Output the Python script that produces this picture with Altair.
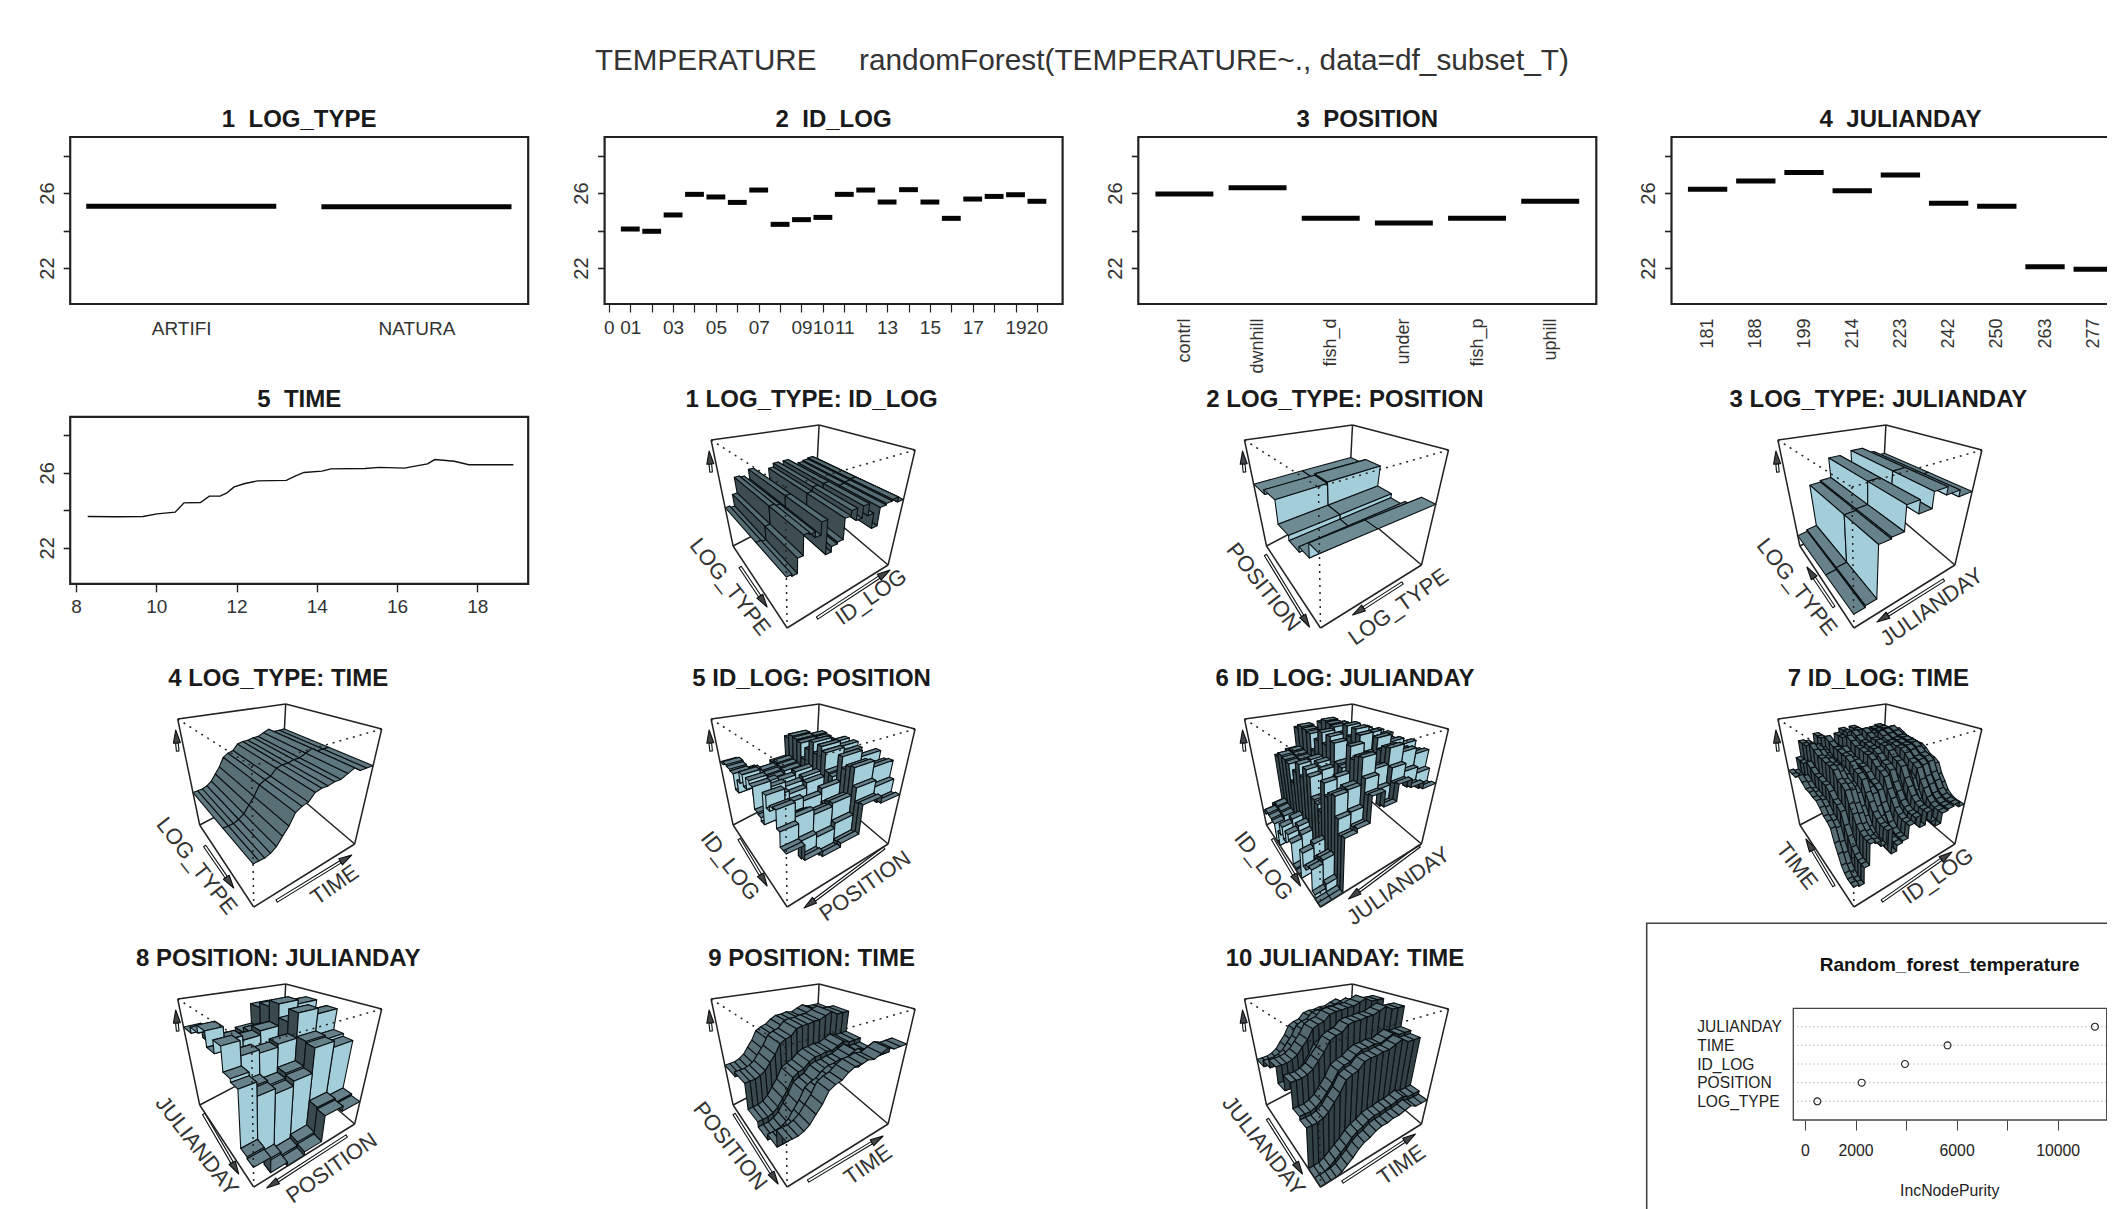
import altair as alt

FONT = "Liberation Sans"
M = 8  # page margin
W, H = 2099, 1201

# ---------- values ----------
LOG_LEVELS = ["ARTIFI", "NATURA"]
LOG_VALUES = [25.29, 25.27]
ID_TICKS = ["0", "01", "", "03", "", "05", "", "07", "", "09", "10", "11", "", "13", "", "15", "", "17", "", "19", "20"]
ID_VALUES = [24.08, 23.96, 24.83, 25.93, 25.79, 25.5, 26.16, 24.33, 24.58, 24.7, 25.93, 26.16, 25.52, 26.18, 25.52, 24.65, 25.68, 25.82, 25.91, 25.56]
POS_LEVELS = ["contrl", "dwnhill", "fish_d", "under", "fish_p", "uphill"]
POS_VALUES = [25.95, 26.28, 24.65, 24.4, 24.65, 25.56]
JUL_LEVELS = ["181", "188", "199", "214", "223", "242", "250", "263", "277"]
JUL_VALUES = [26.2, 26.64, 27.1, 26.12, 26.96, 25.45, 25.3, 22.07, 21.93]
TIME_X = [8.29, 9.0, 9.67, 10.02, 10.47, 10.69, 11.1, 11.32, 11.59, 11.76, 11.94, 12.21, 12.52, 13.24, 13.46, 13.68, 14.13, 14.35, 15.2, 15.56, 16.18, 16.45, 16.76, 16.94, 17.43, 17.79, 18.9]
TIME_Y = [23.67, 23.66, 23.67, 23.81, 23.9, 24.4, 24.42, 24.76, 24.76, 24.93, 25.25, 25.43, 25.57, 25.6, 25.82, 26.02, 26.09, 26.21, 26.23, 26.29, 26.25, 26.36, 26.48, 26.71, 26.62, 26.43, 26.43]

IMP_NAMES = ["JULIANDAY", "TIME", "ID_LOG", "POSITION", "LOG_TYPE"]
IMP_VALUES = [11475, 5640, 3957, 2243, 488]

S_LOG_ID = [
    [23.8, 23.7, 24.5, 25.6, 25.5, 25.2, 25.9, 24.0, 24.3, 24.4, 25.6, 25.9, 25.2, 25.9, 25.2, 24.3, 25.4, 25.5, 25.6, 25.3],
    [23.8, 23.7, 24.5, 25.6, 25.5, 25.2, 25.9, 24.0, 24.3, 24.4, 25.6, 25.9, 25.2, 25.9, 25.2, 24.3, 25.4, 25.5, 25.6, 25.3],
]
S_POS_LOG = [[25.4, 25.4], [25.7, 25.8], [24.2, 24.2], [23.9, 23.9], [24.2, 24.2], [25.0, 25.0]]
S_LOG_JUL = [
    [21.9, 22.0, 24.9, 25.0, 26.5, 25.7, 26.7, 26.2, 25.8],
    [21.9, 22.0, 24.9, 25.0, 26.5, 25.7, 26.7, 26.2, 25.8],
]
S_LOG_TIME = [
    [23.4, 23.4, 23.4, 23.5, 23.7, 24.1, 24.5, 25.1, 25.3, 25.4, 25.8, 25.9, 25.9, 26.0, 26.0, 26.2, 26.4, 26.1, 26.1, 26.1],
    [23.4, 23.4, 23.4, 23.5, 23.7, 24.1, 24.5, 25.1, 25.3, 25.4, 25.8, 25.9, 25.9, 26.0, 26.0, 26.2, 26.4, 26.1, 26.1, 26.1],
]
S_ID_POS = [
    [25.5, 24.6, 24.3, 24.6, 26.2, 25.8], [25.7, 24.8, 24.6, 24.8, 26.5, 26.1], [25.6, 24.7, 24.5, 24.7, 26.4, 26.0],
    [25.5, 24.6, 24.4, 24.6, 26.3, 25.9], [24.5, 23.6, 23.3, 23.6, 25.2, 24.9], [25.3, 24.5, 24.2, 24.5, 26.1, 25.7],
    [26.0, 25.1, 24.9, 25.1, 26.8, 26.4], [25.3, 24.5, 24.2, 24.5, 26.1, 25.7], [26.0, 25.2, 24.9, 25.1, 26.8, 26.4],
    [25.8, 24.8, 24.6, 24.9, 26.5, 26.1], [24.5, 23.7, 23.4, 23.6, 25.3, 24.9], [24.4, 23.6, 23.3, 23.5, 25.2, 24.8],
    [24.2, 23.3, 23.0, 23.3, 24.9, 24.5], [26.0, 25.1, 24.9, 25.2, 26.8, 26.4], [25.3, 24.5, 24.2, 24.4, 26.1, 25.7],
    [25.6, 24.7, 24.5, 24.7, 26.4, 26.0], [25.7, 24.9, 24.6, 24.8, 26.5, 26.1], [24.7, 23.7, 23.5, 23.8, 25.4, 25.0],
    [23.9, 23.0, 22.7, 22.9, 24.6, 24.2], [23.9, 23.1, 22.8, 23.0, 24.7, 24.3],
]
S_ID_JUL = [
    [22.2, 22.4, 25.6, 25.8, 27.3, 26.4, 27.4, 26.9, 26.5], [22.5, 22.7, 25.9, 26.0, 27.6, 26.7, 27.7, 27.2, 26.8],
    [22.4, 22.6, 25.8, 25.9, 27.5, 26.6, 27.6, 27.1, 26.7], [22.3, 22.5, 25.7, 25.8, 27.4, 26.5, 27.5, 27.0, 26.6],
    [21.2, 21.4, 24.6, 24.7, 26.3, 25.4, 26.4, 25.9, 25.5], [22.1, 22.3, 25.5, 25.7, 27.2, 26.3, 27.3, 26.8, 26.4],
    [22.8, 23.0, 26.2, 26.3, 27.9, 27.0, 28.0, 27.5, 27.1], [22.1, 22.3, 25.5, 25.6, 27.2, 26.3, 27.3, 26.8, 26.4],
    [22.8, 23.0, 26.2, 26.4, 27.9, 27.0, 28.0, 27.5, 27.1], [22.5, 22.7, 25.9, 26.1, 27.6, 26.7, 27.7, 27.2, 26.8],
    [21.3, 21.5, 24.7, 24.8, 26.4, 25.5, 26.5, 26.0, 25.6], [21.2, 21.4, 24.6, 24.8, 26.3, 25.4, 26.4, 25.9, 25.5],
    [21.2, 21.2, 24.3, 24.5, 26.0, 25.1, 26.1, 25.6, 25.2], [22.8, 23.0, 26.2, 26.3, 27.9, 27.0, 28.0, 27.5, 27.1],
    [22.1, 22.3, 25.5, 25.6, 27.2, 26.3, 27.3, 26.8, 26.4], [22.4, 22.6, 25.8, 26.0, 27.5, 26.6, 27.6, 27.1, 26.7],
    [22.5, 22.7, 25.9, 26.0, 27.6, 26.7, 27.7, 27.2, 26.8], [21.4, 21.6, 24.8, 24.9, 26.5, 25.6, 26.6, 26.1, 25.7],
    [21.2, 21.2, 24.0, 24.2, 25.7, 24.8, 25.8, 25.3, 24.9], [21.2, 21.2, 24.1, 24.3, 25.8, 24.9, 25.9, 25.4, 25.0],
]
S_TIME_ID = [
    [24.9, 24.8, 25.6, 26.7, 26.6, 26.3, 27.0, 25.6, 25.9, 26.0, 26.7, 27.0, 26.3, 27.0, 26.3, 25.9, 26.5, 26.6, 26.7, 26.4],
    [24.9, 24.8, 25.6, 26.7, 26.6, 26.3, 27.0, 25.6, 25.9, 26.0, 26.7, 27.0, 26.3, 27.0, 26.3, 25.9, 26.5, 26.6, 26.7, 26.4],
    [24.9, 24.8, 25.6, 26.7, 26.6, 26.3, 27.0, 25.6, 25.9, 26.0, 26.7, 27.0, 26.3, 27.0, 26.3, 25.9, 26.5, 26.6, 26.7, 26.4],
    [25.2, 25.1, 25.9, 27.0, 26.9, 26.6, 27.3, 25.9, 26.2, 26.3, 27.0, 27.3, 26.6, 27.3, 26.6, 26.2, 26.8, 26.9, 27.0, 26.7],
    [25.0, 24.9, 25.7, 26.8, 26.7, 26.4, 27.1, 25.7, 26.0, 26.1, 26.8, 27.1, 26.4, 27.1, 26.4, 26.0, 26.6, 26.7, 26.8, 26.5],
    [24.8, 24.7, 25.5, 26.6, 26.5, 26.2, 26.9, 25.5, 25.8, 25.9, 26.6, 26.9, 26.2, 26.9, 26.2, 25.8, 26.4, 26.5, 26.6, 26.3],
    [24.8, 24.7, 25.5, 26.6, 26.5, 26.2, 26.9, 25.5, 25.8, 25.9, 26.6, 26.9, 26.2, 26.9, 26.2, 25.8, 26.4, 26.5, 26.6, 26.3],
    [24.7, 24.6, 25.4, 26.5, 26.4, 26.1, 26.8, 25.4, 25.7, 25.8, 26.5, 26.8, 26.1, 26.8, 26.1, 25.7, 26.3, 26.4, 26.5, 26.2],
    [24.7, 24.6, 25.4, 26.5, 26.4, 26.1, 26.8, 25.4, 25.7, 25.8, 26.5, 26.8, 26.1, 26.8, 26.1, 25.7, 26.3, 26.4, 26.5, 26.2],
    [24.5, 24.4, 25.2, 26.4, 26.2, 25.9, 26.6, 25.2, 25.5, 25.6, 26.3, 26.6, 25.9, 26.6, 25.9, 25.5, 26.1, 26.2, 26.3, 26.0],
    [24.2, 24.1, 24.9, 26.0, 25.9, 25.6, 26.3, 24.9, 25.2, 25.3, 26.0, 26.3, 25.6, 26.3, 25.6, 25.2, 25.8, 25.9, 26.0, 25.7],
    [24.1, 24.0, 24.8, 25.9, 25.8, 25.5, 26.2, 24.8, 25.1, 25.2, 25.9, 26.2, 25.5, 26.2, 25.5, 25.1, 25.7, 25.8, 25.9, 25.6],
    [23.9, 23.8, 24.6, 25.7, 25.6, 25.3, 26.0, 24.6, 24.9, 25.0, 25.7, 26.0, 25.3, 26.0, 25.3, 24.9, 25.5, 25.6, 25.7, 25.4],
    [23.3, 23.2, 24.0, 25.1, 25.0, 24.7, 25.4, 24.0, 24.3, 24.4, 25.1, 25.4, 24.7, 25.4, 24.7, 24.3, 24.9, 25.0, 25.1, 24.8],
    [22.9, 22.8, 23.6, 24.7, 24.6, 24.3, 25.0, 23.6, 23.9, 24.0, 24.7, 25.0, 24.3, 25.0, 24.3, 23.9, 24.5, 24.6, 24.7, 24.4],
    [22.5, 22.4, 23.2, 24.3, 24.2, 23.9, 24.6, 23.2, 23.5, 23.6, 24.3, 24.6, 23.9, 24.6, 23.9, 23.5, 24.1, 24.2, 24.3, 24.0],
    [22.3, 22.2, 23.0, 24.1, 24.0, 23.7, 24.4, 23.0, 23.3, 23.4, 24.1, 24.4, 23.7, 24.4, 23.7, 23.3, 23.9, 24.0, 24.1, 23.8],
    [22.2, 22.1, 22.9, 24.0, 23.9, 23.6, 24.3, 22.9, 23.2, 23.3, 24.0, 24.3, 23.6, 24.3, 23.6, 23.2, 23.8, 23.9, 24.0, 23.7],
    [22.2, 22.1, 22.9, 24.0, 23.9, 23.6, 24.3, 22.9, 23.2, 23.3, 24.0, 24.3, 23.6, 24.3, 23.6, 23.2, 23.8, 23.9, 24.0, 23.7],
    [22.2, 22.1, 22.9, 24.0, 23.9, 23.6, 24.3, 22.9, 23.2, 23.3, 24.0, 24.3, 23.6, 24.3, 23.6, 23.2, 23.8, 23.9, 24.0, 23.7],
]
S_JUL_POS = [
    [26.5, 25.5, 25.3, 25.6, 27.2, 26.9], [26.9, 26.0, 25.7, 26.0, 27.6, 27.3], [27.4, 26.5, 26.2, 26.5, 28.1, 27.8],
    [26.4, 25.5, 25.2, 25.5, 27.1, 26.8], [27.2, 26.3, 26.1, 26.3, 28.0, 27.6], [25.7, 24.8, 24.5, 24.8, 26.4, 26.1],
    [25.5, 24.7, 24.4, 24.7, 26.3, 25.9], [22.3, 21.5, 21.3, 21.5, 23.0, 22.7], [22.2, 21.4, 21.2, 21.4, 22.9, 22.6],
]
S_POS_TIME = [
    [23.9, 23.9, 23.9, 24.0, 24.2, 24.6, 25.0, 25.6, 25.8, 25.9, 26.2, 26.4, 26.4, 26.5, 26.4, 26.6, 26.8, 26.6, 26.6, 26.6],
    [24.2, 24.2, 24.2, 24.3, 24.5, 24.9, 25.3, 25.9, 26.1, 26.2, 26.6, 26.7, 26.7, 26.8, 26.8, 27.0, 27.2, 26.9, 26.9, 26.9],
    [22.6, 22.6, 22.6, 22.7, 22.9, 23.3, 23.7, 24.3, 24.5, 24.6, 24.9, 25.1, 25.1, 25.2, 25.1, 25.3, 25.5, 25.3, 25.3, 25.3],
    [22.3, 22.3, 22.3, 22.4, 22.6, 23.0, 23.4, 24.0, 24.2, 24.3, 24.7, 24.8, 24.8, 24.9, 24.9, 25.1, 25.3, 25.0, 25.0, 25.0],
    [22.6, 22.6, 22.6, 22.7, 22.9, 23.3, 23.7, 24.3, 24.5, 24.6, 24.9, 25.1, 25.1, 25.2, 25.1, 25.3, 25.5, 25.3, 25.3, 25.3],
    [23.5, 23.5, 23.5, 23.6, 23.8, 24.2, 24.6, 25.2, 25.4, 25.5, 25.8, 26.0, 26.0, 26.1, 26.0, 26.2, 26.4, 26.2, 26.2, 26.2],
]
S_JUL_TIME = [
    [24.3, 24.3, 24.3, 24.4, 24.6, 25.0, 25.4, 26.0, 26.2, 26.3, 26.7, 26.8, 26.8, 26.9, 26.9, 27.1, 27.3, 27.0, 27.0, 27.0],
    [24.7, 24.7, 24.7, 24.8, 25.0, 25.4, 25.8, 26.4, 26.6, 26.7, 27.1, 27.2, 27.2, 27.3, 27.3, 27.5, 27.7, 27.4, 27.4, 27.4],
    [25.2, 25.2, 25.2, 25.3, 25.5, 25.9, 26.3, 26.9, 27.1, 27.2, 27.6, 27.7, 27.7, 27.8, 27.8, 28.0, 28.2, 27.9, 27.9, 27.9],
    [24.2, 24.2, 24.2, 24.3, 24.5, 24.9, 25.3, 25.9, 26.1, 26.2, 26.6, 26.7, 26.7, 26.8, 26.8, 27.0, 27.2, 26.9, 26.9, 26.9],
    [25.1, 25.1, 25.1, 25.2, 25.4, 25.8, 26.2, 26.8, 27.0, 27.1, 27.5, 27.6, 27.6, 27.7, 27.7, 27.9, 28.1, 27.8, 27.8, 27.8],
    [23.6, 23.6, 23.6, 23.7, 23.9, 24.3, 24.7, 25.3, 25.5, 25.6, 25.9, 26.1, 26.1, 26.2, 26.1, 26.3, 26.5, 26.3, 26.3, 26.3],
    [23.4, 23.4, 23.4, 23.5, 23.7, 24.1, 24.5, 25.1, 25.3, 25.4, 25.8, 25.9, 25.9, 26.0, 26.0, 26.2, 26.4, 26.1, 26.1, 26.1],
    [21.2, 21.2, 21.2, 21.3, 21.5, 21.7, 21.9, 22.2, 22.4, 22.5, 22.7, 22.8, 22.8, 22.9, 22.9, 23.0, 23.1, 22.9, 22.9, 22.9],
    [21.2, 21.2, 21.2, 21.2, 21.3, 21.5, 21.7, 22.0, 22.2, 22.3, 22.5, 22.6, 22.6, 22.7, 22.7, 22.8, 22.9, 22.7, 22.7, 22.7],
]

# ---------- layout and style ----------
COLS = [70.2, 604.6, 1138.3, 1671.5]
PW = 458
YTOP = [137.0, 416.8]
PH = 167
YDOM = [20.08, 28.99]
ONE = [{"k": 1}]
layers = []


def text(s, x, y, size, bold=False, angle=0, align="center", baseline="alphabetic", color="#1a1a1a"):
    kw = {"fontWeight": "bold"} if bold else {}
    return alt.Chart(alt.Data(values=ONE)).mark_text(
        text=s, font=FONT, fontSize=size, angle=angle, align=align, baseline=baseline, color=color, **kw
    ).encode(x=alt.value(x - M), y=alt.value(y - M))


def frame(x0, x1, y0, y1, width=2.2, color="#222222"):
    return alt.Chart(alt.Data(values=ONE)).mark_rect(fillOpacity=0, stroke=color, strokeWidth=width).encode(
        x=alt.value(x0 - M), x2=alt.value(x1 - M), y=alt.value(y0 - M), y2=alt.value(y1 - M)
    )


def yaxis(x0):
    return alt.Axis(orient="left", values=[22, 24, 26, 28], labelExpr="datum.value==22||datum.value==26 ? datum.label : ''",
                    labelAngle=270, labelAlign="center", labelBaseline="bottom", labelFontSize=20, labelFont=FONT,
                    labelColor="#333333", labelPadding=6, tickSize=7, tickWidth=1.6, tickColor="#222222",
                    domain=False, grid=False, title=None, offset=-(x0 - M), labelOverlap=False)


def yscale(r):
    return alt.Scale(domain=YDOM, range=[YTOP[r] + PH - M, YTOP[r] - M], nice=False, zero=False)


def xaxis(r, labels, values, ticks=False, angle=0, padding=15, size=19):
    expr = "[" + ",".join("'%s'" % s for s in labels) + "][datum.value]"
    kw = dict(orient="bottom", labelExpr=expr, values=values, labelFontSize=size, labelFont=FONT, labelColor="#333333",
              labelPadding=padding, grid=False, domain=False, title=None, labelOverlap=False,
              offset=YTOP[r] + PH - M - H, ticks=ticks)
    if ticks:
        kw.update(tickSize=8, tickWidth=1.2, tickColor="#222222")
    if angle:
        kw.update(labelAngle=angle, labelAlign="right", labelBaseline="middle")
    return alt.Axis(**kw)


def steps(col, values, levels, half, axis, dom):
    rows = [{"lo": l - half, "hi": l + half, "t": v} for l, v in zip(levels, values)]
    return alt.Chart(alt.Data(values=rows)).mark_rule(strokeWidth=5, color="#050505").encode(
        x=alt.X("lo:Q", scale=alt.Scale(domain=dom, range=[COLS[col] - M, COLS[col] + PW - M], nice=False, zero=False), axis=axis),
        x2="hi:Q",
        y=alt.Y("t:Q", scale=yscale(0), axis=yaxis(COLS[col])),
    )


layers.append(steps(0, LOG_VALUES, [0, 1], 0.404, xaxis(0, LOG_LEVELS, [0, 1]), [-0.472, 1.475]))
layers.append(steps(1, ID_VALUES, list(range(1, 21)), 0.44, xaxis(0, ID_TICKS, list(range(21)), ticks=True, padding=6), [-0.2, 21.2]))
layers.append(steps(2, POS_VALUES, list(range(6)), 0.396, xaxis(0, POS_LEVELS, list(range(6)), angle=270, padding=14, size=18), [-0.63, 5.63]))
layers.append(steps(3, JUL_VALUES, list(range(9)), 0.408, xaxis(0, JUL_LEVELS, list(range(9)), angle=270, padding=14, size=18), [-0.749, 8.753]))
for c in range(4):
    layers.append(frame(COLS[c], COLS[c] + PW, YTOP[0], YTOP[0] + PH))

layers.append(
    alt.Chart(alt.Data(values=[{"t": a, "v": b} for a, b in zip(TIME_X, TIME_Y)])).mark_line(color="#111111", strokeWidth=1.4).encode(
        x=alt.X("t:Q", scale=alt.Scale(domain=[7.853, 19.27], range=[COLS[0] - M, COLS[0] + PW - M], nice=False, zero=False),
                axis=alt.Axis(orient="bottom", values=[8, 10, 12, 14, 16, 18], labelFontSize=19, labelFont=FONT, labelColor="#333333", labelPadding=6,
                              tickSize=8, tickWidth=1.4, tickColor="#222222", domain=False, grid=False, title=None,
                              offset=YTOP[1] + PH - M - H, format="d", labelOverlap=False)),
        y=alt.Y("v:Q", scale=yscale(1), axis=yaxis(COLS[0])),
        order="t:Q",
    )
)
layers.append(frame(COLS[0], COLS[0] + PW, YTOP[1], YTOP[1] + PH))

# ---------- perspective panels ----------
T0, T1 = 21.2, 28.4
BACK_X = [285.7 + 533.4 * c for c in range(4)]
BACK_Y = [425.0, 704.0, 984.0]
CORNERS = {"Bt": (0, 0), "Lt": (-108, 15), "Rt": (96, 25), "Ft": (-34, 62),
           "Lb": (-86, 121), "Rb": (69, 140), "Fb": (-32, 203), "Bb": (-4, 78)}


def blend(p, q, t):
    return (p[0] + (q[0] - p[0]) * t, p[1] + (q[1] - p[1]) * t)


def project(u, v, z, ox, oy):
    c = CORNERS
    fl = blend(blend(c["Lb"], c["Fb"], u), blend(c["Bb"], c["Rb"], u), v)
    tp = blend(blend(c["Lt"], c["Ft"], u), blend(c["Bt"], c["Rt"], u), v)
    p = blend(fl, tp, z)
    return (p[0] + ox, p[1] + oy)


def nodes(n, factor):
    if factor:
        pos, idx = [], []
        for k in range(n):
            pos += [k / n, (k + 1) / n]
            idx += [k, k]
        return pos, idx
    return [k / (n - 1) for k in range(n)], list(range(n))


PANELS = [
    ("1 LOG_TYPE: ID_LOG", 1, 0, "LOG_TYPE", "ID_LOG", S_LOG_ID, True, True, (0.50, 0.9, 0.36), ((-79, 142), (-52, 182)), ((-2, 193), (71, 145)), (52, 172)),
    ("2 LOG_TYPE: POSITION", 2, 0, "POSITION", "LOG_TYPE", S_POS_LOG, True, True, (0.64, 0.95, 0.40), ((-87, 130), (-43, 202)), ((50, 158), (0, 190)), (46, 182)),
    ("3 LOG_TYPE: JULIANDAY", 3, 0, "LOG_TYPE", "JULIANDAY", S_LOG_JUL, True, True, (0.60, 0.42, 0.95), ((-52, 182), (-79, 142)), ((58, 155), (-9, 197)), (46, 182)),
    ("4 LOG_TYPE: TIME", 0, 1, "LOG_TYPE", "TIME", S_LOG_TIME, True, False, (0.56, 0.5, 0.5), ((-81, 142), (-52, 184)), ((-9, 197), (66, 151)), (49, 181)),
    ("5 ID_LOG: POSITION", 1, 1, "ID_LOG", "POSITION", S_ID_POS, True, True, (0.6, 0.95, 0.36), ((-80, 135), (-52, 182)), ((65, 144), (-15, 204)), (46, 182)),
    ("6 ID_LOG: JULIANDAY", 2, 1, "ID_LOG", "JULIANDAY", S_ID_JUL, True, True, (0.6, 0.95, 0.34), ((-80, 135), (-52, 182)), ((67, 142), (-4, 195)), (46, 182)),
    ("7 ID_LOG: TIME", 3, 1, "TIME", "ID_LOG", S_TIME_ID, False, True, (0.5, 0.5, 0.36), ((-52, 182), (-80, 135)), ((-4, 197), (66, 148)), (52, 172)),
    ("8 POSITION: JULIANDAY", 0, 2, "JULIANDAY", "POSITION", S_JUL_POS, True, True, (0.6, 0.95, 0.34), ((-82, 130), (-47, 190)), ((61, 152), (-19, 204)), (46, 184)),
    ("9 POSITION: TIME", 1, 2, "POSITION", "TIME", S_POS_TIME, True, False, (0.54, 0.34, 0.5), ((-85, 130), (-41, 200)), ((-11, 197), (64, 152)), (49, 181)),
    ("10 JULIANDAY: TIME", 2, 2, "JULIANDAY", "TIME", S_JUL_TIME, True, False, (0.55, 0.3, 0.45), ((-85, 135), (-50, 190)), ((-10, 198), (63, 150)), (49, 181)),
]

polys, solid_back, solid_front, dotted = [], [], [], []
gid = [0]


def add_poly(pts, colour):
    g = gid[0]
    gid[0] += 1
    for i, p in enumerate(pts):
        polys.append({"g": g, "i": i, "x": round(p[0] - M, 1), "y": round(p[1] - M, 1), "c": colour})


def add_arrow(tail, head, ox, oy):
    dx, dy = head[0] - tail[0], head[1] - tail[1]
    n = (dx * dx + dy * dy) ** 0.5
    dx, dy = dx / n, dy / n
    nx, ny = -dy, dx
    t = (tail[0] + ox, tail[1] + oy)
    h = (head[0] + ox, head[1] + oy)
    b = (h[0] - dx * 13, h[1] - dy * 13)
    add_poly([(t[0] + nx * 1.3, t[1] + ny * 1.3), (b[0] + nx * 1.3, b[1] + ny * 1.3),
              (b[0] - nx * 1.3, b[1] - ny * 1.3), (t[0] - nx * 1.3, t[1] - ny * 1.3)], "#ffffff")
    add_poly([h, (b[0] + nx * 3.5, b[1] + ny * 3.5), (b[0] - nx * 3.5, b[1] - ny * 3.5)], "#444444")


def edge(store, a, b, ox, oy):
    p, q = CORNERS[a], CORNERS[b]
    store.append({"x": p[0] + ox - M, "y": p[1] + oy - M, "x2": q[0] + ox - M, "y2": q[1] + oy - M})


for title, c, r, left, right, table, ufac, vfac, shade, la, ra, rlab in PANELS:
    ox, oy = BACK_X[c], BACK_Y[r]
    edge(solid_back, "Bt", "Bb", ox, oy)
    edge(solid_back, "Lb", "Bb", ox, oy)
    edge(solid_back, "Rb", "Bb", ox, oy)
    for a, b in [("Lt", "Bt"), ("Bt", "Rt"), ("Lt", "Lb"), ("Rt", "Rb"), ("Lb", "Fb"), ("Fb", "Rb")]:
        edge(solid_front, a, b, ox, oy)
    for a, b in [("Lt", "Ft"), ("Rt", "Ft"), ("Ft", "Fb")]:
        edge(dotted, a, b, ox, oy)

    upos, uidx = nodes(len(table), ufac)
    vpos, vidx = nodes(len(table[0]), vfac)
    zz = [[(table[a][b] - T0) / (T1 - T0) for b in vidx] for a in uidx]
    for i in range(len(upos) - 1):
        for j in range(len(vpos) - 2, -1, -1):
            u0, u1, v0, v1 = upos[i], upos[i + 1], vpos[j], vpos[j + 1]
            z00, z01, z11, z10 = zz[i][j], zz[i][j + 1], zz[i + 1][j + 1], zz[i + 1][j]
            if (u0 == u1 and v0 == v1):
                continue
            if (u0 == u1 and z00 == z10 and z01 == z11) or (v0 == v1 and z00 == z01 and z10 == z11):
                continue
            a = (u1 - u0, v1 - v0, z11 - z00)
            b = (u1 - u0, v0 - v1, z10 - z01)
            n = (a[1] * b[2] - a[2] * b[1], a[2] * b[0] - a[0] * b[2], a[0] * b[1] - a[1] * b[0])
            m = (n[0] ** 2 + n[1] ** 2 + n[2] ** 2) or 1.0
            light = (n[2] ** 2 * shade[0] + n[0] ** 2 * shade[1] + n[1] ** 2 * shade[2]) / m
            colour = "#%02x%02x%02x" % (int(173 * light), int(216 * light), int(230 * light))
            add_poly([project(u0, v0, z00, ox, oy), project(u0, v1, z01, ox, oy),
                      project(u1, v1, z11, ox, oy), project(u1, v0, z10, ox, oy)], colour)
    add_arrow(la[0], la[1], ox, oy)
    add_arrow(ra[0], ra[1], ox, oy)
    add_arrow((-108, 47), (-110, 26), ox, oy)

PXS = alt.Scale(domain=[0, W], range=[0, W], nice=False, zero=False)
PYS = alt.Scale(domain=[0, H], range=[0, H], nice=False, zero=False)


def rules(rows, **style):
    return alt.Chart(alt.Data(values=rows)).mark_rule(color="#222222", **style).encode(
        x=alt.X("x:Q", scale=PXS, axis=None), x2="x2:Q",
        y=alt.Y("y:Q", scale=PYS, axis=None), y2="y2:Q")


layers.append(rules(solid_back, strokeWidth=1.5))
layers.append(
    alt.Chart(alt.Data(values=polys)).mark_line(interpolate="linear-closed", stroke="#0a1013", strokeWidth=1.1, strokeJoin="round").encode(
        x=alt.X("x:Q", scale=PXS, axis=None),
        y=alt.Y("y:Q", scale=PYS, axis=None),
        detail="g:N",
        fill=alt.Fill("c:N", scale=None),
        order="i:Q",
    )
)
layers.append(rules(solid_front, strokeWidth=1.5))
layers.append(rules(dotted, strokeWidth=1.5, strokeDash=[2, 5]))

for title, c, r, left, right, table, ufac, vfac, shade, la, ra, rlab in PANELS:
    ox, oy = BACK_X[c], BACK_Y[r]
    layers.append(text(title, ox - 7.5, oy - 18, 24, bold=True))
    layers.append(text(left, ox - 89, oy + 162, 22, angle=52, baseline="middle", color="#333333"))
    layers.append(text(right, ox + rlab[0], oy + rlab[1], 22, angle=325, baseline="middle", color="#333333"))

# ---------- titles ----------
layers.append(text("TEMPERATURE", 595, 70, 29.6, align="left", color="#333333"))
layers.append(text("randomForest(TEMPERATURE~., data=df_subset_T)", 859, 70, 29.8, align="left", color="#333333"))
for s, c in [("1\u00a0\u00a0LOG_TYPE", 0), ("2\u00a0\u00a0ID_LOG", 1), ("3\u00a0\u00a0POSITION", 2), ("4\u00a0\u00a0JULIANDAY", 3)]:
    layers.append(text(s, COLS[c] + PW / 2, 127, 24, bold=True))
layers.append(text("5\u00a0\u00a0TIME", COLS[0] + PW / 2, 407, 24, bold=True))

# ---------- importance inset ----------
IX0, IX1, IY0, IY1 = 1793.3, 2106.7, 1008.3, 1120.0
layers.append(frame(1646.7, 2300, 923.3, 1400, width=1.6, color="#444444"))
imp_rows = [{"n": a, "v": b} for a, b in zip(IMP_NAMES, IMP_VALUES)]
ix = alt.Scale(domain=[-463, 11940], range=[IX0 - M, IX1 - M], nice=False, zero=False)
iy = alt.Scale(type="point", domain=IMP_NAMES, range=[1026.7 - M, 1101.3 - M], padding=0)
layers.append(
    alt.Chart(alt.Data(values=imp_rows)).mark_rule(color="#9a9a9a", strokeWidth=1, strokeDash=[1, 3]).encode(
        y=alt.Y("n:N", scale=iy, axis=None),
        x=alt.value(IX0 - M), x2=alt.value(IX1 - M),
    )
)
layers.append(
    alt.Chart(alt.Data(values=imp_rows)).mark_point(shape="circle", filled=False, color="#222222", size=48, strokeWidth=1.1, opacity=1).encode(
        x=alt.X("v:Q", scale=ix, axis=alt.Axis(orient="bottom", values=[0, 2000, 4000, 6000, 8000, 10000],
                labelExpr="datum.value==4000||datum.value==8000 ? '' : format(datum.value,'d')",
                labelFontSize=15.8, labelFont=FONT, labelColor="#222222", labelPadding=13, tickSize=10, tickWidth=1,
                tickColor="#444444", domain=False, grid=False, title=None, labelOverlap=False, offset=IY1 - M - H)),
        y=alt.Y("n:N", scale=iy, axis=alt.Axis(orient="left", ticks=False, domain=False, grid=False, title=None, labelFontSize=15.6, labelFont=FONT,
                labelColor="#222222", labelAlign="left", labelPadding=IX0 - 1696.7, offset=-(IX0 - M))),
    )
)
layers.append(frame(IX0, IX1, IY0, IY1, width=1.3, color="#444444"))
layers.append(text("Random_forest_temperature", 1949.7, 971, 19, bold=True, color="#111111"))
layers.append(text("IncNodePurity", 1949.7, 1196, 15.8, color="#222222"))

chart = alt.layer(*layers).resolve_scale(x="independent", y="independent").properties(
    width=W, height=H, padding=0, background="white", autosize=alt.AutoSizeParams(type="none")
).configure_view(stroke=None)

chart.save("out.html", embed_options={"renderer": "svg", "actions": False})
